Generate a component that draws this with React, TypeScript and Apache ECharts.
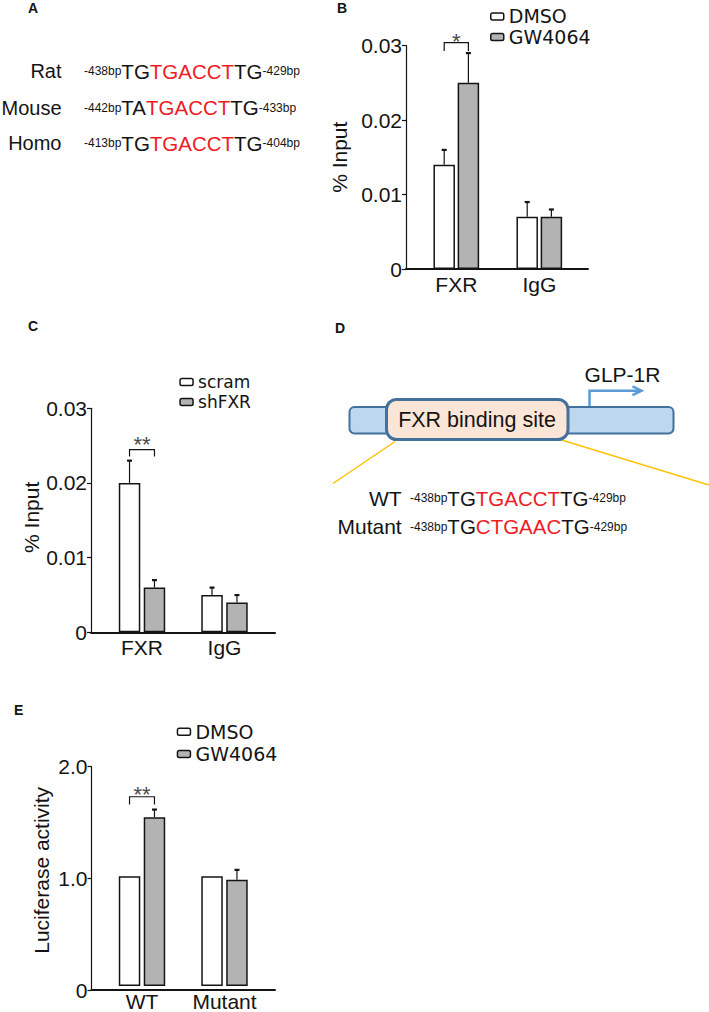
import React, { useEffect, useRef } from 'react';
import * as echarts from 'echarts';

const FONT = '"Liberation Sans", Arial, Helvetica, sans-serif';
const LEG_FONT = '"DejaVu Sans", Verdana, sans-serif';

// ---------- Panel A: promoter sequences ----------
const speciesNames = ['Rat', 'Mouse', 'Homo'];
const speciesStart = ['-438bp', '-442bp', '-413bp'];
const speciesEnd = ['-429bp', '-433bp', '-404bp'];
const speciesLeft = ['TG', 'TA', 'TG'];
const speciesCore = ['TGACCT', 'TGACCT', 'TGACCT'];
const speciesRight = ['TG', 'TG', 'TG'];

// ---------- Panel B: ChIP, DMSO vs GW4064 ----------
const chipCategories = ['FXR', 'IgG'];
const chipDmso = [0.014, 0.007];
const chipDmsoErr = [0.002, 0.002];
const chipGw = [0.025, 0.007];
const chipGwErr = [0.004, 0.001];

// ---------- Panel C: ChIP, scram vs shFXR ----------
const kdCategories = ['FXR', 'IgG'];
const kdScram = [0.02, 0.005];
const kdScramErr = [0.003, 0.001];
const kdShFxr = [0.006, 0.004];
const kdShFxrErr = [0.001, 0.001];

// ---------- Panel D: constructs ----------
const constructNames = ['WT', 'Mutant'];
const constructStart = ['-438bp', '-438bp'];
const constructEnd = ['-429bp', '-429bp'];
const constructLeft = ['TG', 'TG'];
const constructCore = ['TGACCT', 'CTGAAC'];
const constructRight = ['TG', 'TG'];

// ---------- Panel E: luciferase ----------
const lucCategories = ['WT', 'Mutant'];
const lucDmso = [1.0, 1.0];
const lucDmsoErr = [0, 0];
const lucGw = [1.54, 0.97];
const lucGwErr = [0.07, 0.09];

const INK = '#141414';
const GRAY = '#b3b3b3';
const RED = '#ee1c24';

const richStyles = {
  s: { font: `12px ${FONT}`, fill: INK },
  k: { font: `20.5px ${FONT}`, fill: INK },
  r: { font: `20.5px ${FONT}`, fill: RED },
};

function seqText(start: string, left: string, core: string, right: string, end: string) {
  return `{s|${start}}{k|${left}}{r|${core}}{k|${right}}{s|${end}}`;
}

type PanelCfg = {
  cats: string[];
  n1: string; v1: number[]; e1: number[];
  n2: string; v2: number[]; e2: number[];
  max: number; interval: number; decimals: number;
  yName: string; nameGap: number; namePad: number[];
  frame: { left: number; top: number; width: number; height: number };
  bars: { left: number; width: number };
  barWidth: number; barGap: number;
  sig: { cat: number; text: string; legPx: number; topPx: number; starDy: number; starSize: number };
};

function buildPanel(k: number, cfg: PanelCfg, acc: any) {
  const ga = 2 * k;
  const gb = 2 * k + 1;
  const f = cfg.frame;
  acc.grid.push(
    { left: f.left, top: f.top, width: f.width, height: f.height },
    { left: cfg.bars.left, top: f.top, width: cfg.bars.width, height: f.height }
  );
  acc.xAxis.push(
    {
      type: 'value', gridIndex: ga, min: 0, max: 1,
      axisLine: { show: true, lineStyle: { color: INK, width: 2 } },
      axisTick: { show: false }, axisLabel: { show: false }, splitLine: { show: false },
    },
    {
      type: 'category', gridIndex: gb, data: cfg.cats,
      axisLine: { show: false }, axisTick: { show: false }, splitLine: { show: false },
      axisLabel: { fontSize: 21, fontFamily: FONT, color: INK, margin: 5, interval: 0, hideOverlap: false },
    }
  );
  acc.yAxis.push(
    {
      type: 'value', gridIndex: ga, min: 0, max: cfg.max, interval: cfg.interval,
      axisLine: { show: true, lineStyle: { color: INK, width: 1.2 } },
      axisTick: { show: true, length: 4, lineStyle: { color: INK, width: 1.2 } },
      axisLabel: {
        fontSize: 21, fontFamily: FONT, color: INK, margin: 4,
        formatter: (v: number) => (v === 0 ? '0' : v.toFixed(cfg.decimals)),
      },
      splitLine: { show: false },
      name: cfg.yName, nameLocation: 'middle', nameGap: cfg.nameGap,
      nameTextStyle: { fontSize: 21, fontFamily: FONT, color: INK, padding: cfg.namePad },
    },
    { type: 'value', gridIndex: gb, min: 0, max: cfg.max, show: false, splitLine: { show: false } }
  );
  const off = (cfg.barWidth * (1 + cfg.barGap)) / 2;
  const barStyle = (fill: string) => ({ color: fill, borderColor: INK, borderWidth: 1.5 });
  acc.series.push(
    {
      type: 'bar', name: cfg.n1, xAxisIndex: gb, yAxisIndex: gb, data: cfg.v1,
      barWidth: cfg.barWidth, barGap: `${cfg.barGap * 100}%`, itemStyle: barStyle('#ffffff'), silent: true,
    },
    {
      type: 'bar', name: cfg.n2, xAxisIndex: gb, yAxisIndex: gb, data: cfg.v2,
      barWidth: cfg.barWidth, barGap: `${cfg.barGap * 100}%`, itemStyle: barStyle(GRAY), silent: true,
    }
  );
  const errSeries = (vals: number[], errs: number[], dx: number) => ({
    type: 'custom', xAxisIndex: gb, yAxisIndex: gb, z: 5, silent: true,
    data: vals.map((v, i) => [i, v, v + errs[i]]).filter((d) => d[2] > d[1]),
    renderItem: (_p: any, api: any) => {
      const p0 = api.coord([api.value(0), api.value(1)]);
      const p1 = api.coord([api.value(0), api.value(2)]);
      const x = p0[0] + dx;
      return {
        type: 'group',
        children: [
          { type: 'line', shape: { x1: x, y1: p0[1], x2: x, y2: p1[1] }, style: { stroke: INK, lineWidth: 1.2 } },
          { type: 'rect', shape: { x: x - 2.5, y: p1[1] - 1, width: 5, height: 2.2 }, style: { fill: INK } },
        ],
      };
    },
  });
  acc.series.push(errSeries(cfg.v1, cfg.e1, -off), errSeries(cfg.v2, cfg.e2, off));
  const c = cfg.sig.cat;
  const maxTop = Math.max(cfg.v1[c] + cfg.e1[c], cfg.v2[c] + cfg.e2[c]);
  const sig = cfg.sig;
  acc.series.push({
    type: 'custom', xAxisIndex: gb, yAxisIndex: gb, z: 5, silent: true,
    data: [[c, maxTop]],
    renderItem: (_p: any, api: any) => {
      const p = api.coord([api.value(0), api.value(1)]);
      const cx = p[0];
      const legY = p[1] - sig.legPx;
      const topY = p[1] - sig.topPx;
      return {
        type: 'group',
        children: [
          {
            type: 'polyline',
            shape: { points: [[cx - off, legY], [cx - off, topY], [cx + off, topY], [cx + off, legY]] },
            style: { stroke: INK, lineWidth: 1.2, fill: null },
          },
          {
            type: 'text', x: cx, y: topY - sig.starDy,
            style: { text: sig.text, font: `${sig.starSize}px ${FONT}`, fill: '#4a4a4a', align: 'center', verticalAlign: 'middle' },
          },
        ],
      };
    },
  });
}

export default function App() {
  const ref = useRef<HTMLDivElement>(null);
  useEffect(() => {
    if (!ref.current) return;
    const chart = echarts.init(ref.current, undefined, { renderer: 'svg' });
    const acc: any = { grid: [], xAxis: [], yAxis: [], series: [] };

    buildPanel(0, {
      cats: chipCategories, n1: 'DMSO', v1: chipDmso, e1: chipDmsoErr, n2: 'GW4064', v2: chipGw, e2: chipGwErr,
      max: 0.03, interval: 0.01, decimals: 2, yName: '% Input', nameGap: 56, namePad: [0, 0, 0, 0],
      frame: { left: 406, top: 45.5, width: 182, height: 223.5 },
      bars: { left: 414.8, width: 166 }, barWidth: 21.5, barGap: 0.125,
      sig: { cat: 0, text: '*', legPx: 2, topPx: 10.4, starDy: 1, starSize: 22 },
    }, acc);
    buildPanel(1, {
      cats: kdCategories, n1: 'scram', v1: kdScram, e1: kdScramErr, n2: 'shFXR', v2: kdShFxr, e2: kdShFxrErr,
      max: 0.03, interval: 0.01, decimals: 2, yName: '% Input', nameGap: 41, namePad: [0, 0, 0, 6],
      frame: { left: 91, top: 408.3, width: 184, height: 224 },
      bars: { left: 100.75, width: 165 }, barWidth: 21.5, barGap: 0.16,
      sig: { cat: 0, text: '**', legPx: 4, topPx: 11, starDy: 5, starSize: 22 },
    }, acc);
    buildPanel(2, {
      cats: lucCategories, n1: 'DMSO', v1: lucDmso, e1: lucDmsoErr, n2: 'GW4064', v2: lucGw, e2: lucGwErr,
      max: 2.0, interval: 1.0, decimals: 1, yName: 'Luciferase activity', nameGap: 40, namePad: [0, 0, 0, 16],
      frame: { left: 91.5, top: 766.7, width: 183.5, height: 223.3 },
      bars: { left: 100.75, width: 165 }, barWidth: 21.5, barGap: 0.16,
      sig: { cat: 0, text: '**', legPx: 5, topPx: 12.7, starDy: 2, starSize: 22 },
    }, acc);

    const legendBase = {
      orient: 'vertical', itemWidth: 13, itemHeight: 7, icon: 'roundRect', selectedMode: false, padding: 0,
      itemStyle: { borderColor: INK, borderWidth: 1.5 },
    };
    const legend = [
      { ...legendBase, left: 490, top: 6.2, itemGap: 0, data: ['DMSO', 'GW4064'],
        textStyle: { fontFamily: LEG_FONT, fontSize: 19, color: INK, lineHeight: 20.5 } },
      { ...legendBase, left: 179.3, top: 373.5, itemGap: 3, data: ['scram', 'shFXR'],
        textStyle: { fontFamily: LEG_FONT, fontSize: 17, color: INK, lineHeight: 17 } },
      { ...legendBase, left: 176.7, top: 720.5, itemGap: 0, data: ['DMSO', 'GW4064'],
        textStyle: { fontFamily: LEG_FONT, fontSize: 19, color: INK, lineHeight: 22.3 } },
    ];

    const graphics: any[] = [];
    const letter = (t: string, x: number, y: number) => graphics.push({
      type: 'text', x, y, style: { text: t, font: `bold 14px ${FONT}`, fill: INK, align: 'left', verticalAlign: 'middle' },
    });
    letter('A', 28, 7.5);
    letter('B', 337, 7.5);
    letter('C', 28, 326);
    letter('D', 335, 327.5);
    letter('E', 14, 710);

    const rowYA = [71, 107.5, 143];
    speciesNames.forEach((nm, i) => {
      graphics.push({
        type: 'text', x: 61.5, y: rowYA[i],
        style: { text: nm, font: `20px ${FONT}`, fill: INK, align: 'right', verticalAlign: 'middle' },
      });
      graphics.push({
        type: 'text', x: 84, y: rowYA[i],
        style: {
          text: seqText(speciesStart[i], speciesLeft[i], speciesCore[i], speciesRight[i], speciesEnd[i]),
          rich: richStyles, font: `20.5px ${FONT}`, fill: INK, align: 'left', verticalAlign: 'middle',
        },
      });
    });

    // Panel D diagram
    graphics.push(
      { type: 'line', shape: { x1: 395, y1: 441.5, x2: 333, y2: 483.5 }, style: { stroke: '#ffc000', lineWidth: 1.5 } },
      { type: 'line', shape: { x1: 561.5, y1: 440, x2: 709, y2: 485 }, style: { stroke: '#ffc000', lineWidth: 1.5 } },
      { type: 'rect', shape: { x: 349.5, y: 407, width: 324, height: 26.5, r: 5 }, style: { fill: '#bdd7ee', stroke: '#41719c', lineWidth: 2 } },
      { type: 'rect', shape: { x: 386.5, y: 399.5, width: 181.5, height: 40, r: 10 }, style: { fill: '#fbe5d6', stroke: '#41719c', lineWidth: 3 } },
      { type: 'text', x: 477, y: 420, style: { text: 'FXR binding site', font: `21.5px ${FONT}`, fill: INK, align: 'center', verticalAlign: 'middle' } },
      { type: 'polyline', shape: { points: [[589.5, 406], [589.5, 390.7], [640, 390.7]] }, style: { stroke: '#5b9bd5', lineWidth: 2.5, fill: null } },
      { type: 'polyline', shape: { points: [[632.5, 386.3], [641.5, 390.7], [632.5, 395.1]] }, style: { stroke: '#5b9bd5', lineWidth: 2.5, fill: null } },
      { type: 'text', x: 622.5, y: 374, style: { text: 'GLP-1R', font: `21px ${FONT}`, fill: INK, align: 'center', verticalAlign: 'middle' } }
    );
    const rowYD = [498.3, 526.7];
    constructNames.forEach((nm, i) => {
      graphics.push({
        type: 'text', x: 401.7, y: rowYD[i],
        style: { text: nm, font: `21px ${FONT}`, fill: INK, align: 'right', verticalAlign: 'middle' },
      });
      graphics.push({
        type: 'text', x: 410, y: rowYD[i],
        style: {
          text: seqText(constructStart[i], constructLeft[i], constructCore[i], constructRight[i], constructEnd[i]),
          rich: richStyles, font: `20.5px ${FONT}`, fill: INK, align: 'left', verticalAlign: 'middle',
        },
      });
    });

    chart.setOption({
      animation: false,
      backgroundColor: '#ffffff',
      grid: acc.grid,
      xAxis: acc.xAxis,
      yAxis: acc.yAxis,
      legend,
      series: acc.series,
      graphic: { elements: graphics },
    });
    return () => chart.dispose();
  }, []);
  return <div ref={ref} style={{ position: 'absolute', left: 0, top: 0, width: 709, height: 1012 }} />;
}
